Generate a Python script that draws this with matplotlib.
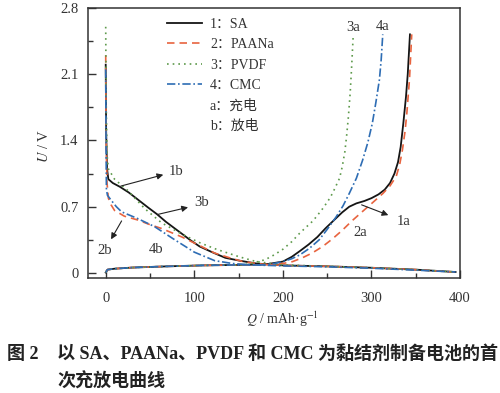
import matplotlib
matplotlib.use("Agg")
import matplotlib.pyplot as plt
from matplotlib.lines import Line2D
from matplotlib.ticker import MultipleLocator

plt.rcParams["font.family"] = ["Liberation Serif", "Noto Sans CJK SC"]
plt.rcParams["mathtext.fontset"] = "stix"

# ---- data (Q in mAh/g, U in V) ----
series_names = ["1：SA", "2：PAANa", "3：PVDF", "4：CMC"]

# discharge curves (b)
sa_dis_q = [0, 0.5, 1.5, 3, 8, 16, 26, 37, 48, 58, 68, 78, 88, 95, 106, 120, 135, 151, 170, 200, 250, 300, 350, 395]
sa_dis_u = [2.2, 1.5, 1.1, 0.99, 0.95, 0.91, 0.85, 0.77, 0.69, 0.62, 0.54, 0.47, 0.40, 0.35, 0.28, 0.22, 0.16, 0.13, 0.10, 0.08, 0.07, 0.055, 0.035, 0.01]
paana_dis_q = [0, 0.5, 1.5, 3, 6, 10, 21, 36, 50, 63, 86, 108, 123, 140, 155, 175, 200, 250, 300, 350, 393]
paana_dis_u = [2.3, 1.4, 0.95, 0.79, 0.72, 0.66, 0.60, 0.56, 0.51, 0.47, 0.38, 0.28, 0.21, 0.16, 0.12, 0.095, 0.08, 0.07, 0.055, 0.035, 0.01]
pvdf_dis_q = [0, 0.5, 1.5, 3, 10, 25, 44, 63, 86, 106, 125, 151, 170, 200, 250, 300, 350, 395]
pvdf_dis_u = [2.6, 1.8, 1.25, 1.10, 0.99, 0.87, 0.68, 0.53, 0.41, 0.32, 0.25, 0.17, 0.12, 0.085, 0.07, 0.055, 0.035, 0.01]
cmc_dis_q = [0, 0.4, 0.8, 2, 6, 12, 18, 36, 55, 78, 100, 123, 143, 165, 200, 250, 300, 350, 395]
cmc_dis_u = [2.15, 1.3, 0.88, 0.82, 0.77, 0.70, 0.645, 0.575, 0.49, 0.35, 0.22, 0.13, 0.10, 0.085, 0.075, 0.065, 0.05, 0.03, 0.01]

# charge curves (a)
sa_chg_q = [0, 2, 10, 30, 70, 110, 150, 180, 200, 210, 219, 229, 239, 248, 258, 267, 275, 283, 292, 300,
            308, 315, 321, 326, 330, 333, 336, 339, 341, 343.5]
sa_chg_u = [0.005, 0.035, 0.045, 0.057, 0.07, 0.08, 0.085, 0.09, 0.12, 0.17, 0.23, 0.30, 0.38, 0.47, 0.56, 0.64, 0.70, 0.735, 0.76, 0.79,
            0.83, 0.88, 0.95, 1.05, 1.17, 1.33, 1.58, 1.86, 2.1, 2.52]
paana_chg_q = [0, 2, 10, 30, 70, 110, 150, 180, 200, 211, 222, 233, 245, 256, 267, 278, 290, 301, 313, 321,
               328, 332, 335, 338, 340, 343, 345.5]
paana_chg_u = [0.005, 0.035, 0.045, 0.057, 0.07, 0.08, 0.085, 0.085, 0.10, 0.12, 0.16, 0.21, 0.28, 0.36, 0.45, 0.55, 0.65, 0.74, 0.84, 0.92,
               1.02, 1.15, 1.30, 1.50, 1.69, 2.05, 2.52]
pvdf_chg_q = [0, 2, 10, 30, 70, 110, 150, 158, 165, 172, 180, 190, 200, 210, 219, 227, 234, 240, 245, 251,
              256, 260, 264, 267, 270, 272, 274, 276, 277.5, 279.5]
pvdf_chg_u = [0.005, 0.035, 0.045, 0.057, 0.07, 0.08, 0.085, 0.09, 0.10, 0.12, 0.14, 0.19, 0.25, 0.33, 0.42, 0.49, 0.55, 0.62, 0.68, 0.76,
              0.84, 0.92, 1.0, 1.12, 1.28, 1.45, 1.65, 1.9, 2.15, 2.52]
cmc_chg_q = [0, 2, 10, 30, 70, 110, 150, 180, 190, 200, 210, 219, 230, 241, 250, 260, 268, 275, 283, 290,
             296, 301, 305, 309, 311, 312.8]
cmc_chg_u = [0.005, 0.035, 0.045, 0.057, 0.07, 0.08, 0.085, 0.085, 0.10, 0.12, 0.15, 0.19, 0.26, 0.35, 0.46, 0.59, 0.71, 0.84, 1.0, 1.19,
             1.38, 1.58, 1.8, 2.04, 2.25, 2.52]

discharge = [(sa_dis_q, sa_dis_u), (paana_dis_q, paana_dis_u), (pvdf_dis_q, pvdf_dis_u), (cmc_dis_q, cmc_dis_u)]
charge = [(sa_chg_q, sa_chg_u), (paana_chg_q, paana_chg_u), (pvdf_chg_q, pvdf_chg_u), (cmc_chg_q, cmc_chg_u)]

colors = ["#151515", "#e8643f", "#5e9a4c", "#2e6db4"]
styles = ["-", (0, (4.5, 3)), (0, (1, 2.4)), (0, (5, 1.6, 1, 1.6))]
widths = [1.3, 1.2, 1.2, 1.2]

fig = plt.figure(figsize=(5.0, 3.93), dpi=100)
ax = fig.add_axes([0.176, 0.2934, 0.744, 0.6866])

handles = []
for i in range(4):
    for q, u in (discharge[i], charge[i]):
        line, = ax.plot(q, u, color=colors[i], ls=styles[i], lw=widths[i])
    handles.append(line)

ax.set_xlim(-20, 400)
ax.set_ylim(-0.05, 2.8)
ax.set_xticks([0, 100, 200, 300, 400])
ax.set_yticks([0, 0.7, 1.4, 2.1, 2.8])
ax.set_yticklabels(["0", "0.7", "1.4", "2.1", "2.8"])
ax.xaxis.set_minor_locator(MultipleLocator(50))
ax.yaxis.set_minor_locator(MultipleLocator(0.35))
ax.tick_params(which="both", direction="in", width=1.0, color="#333333", labelsize=10.5, labelcolor="#333333")
ax.tick_params(which="major", length=6)
ax.tick_params(which="minor", length=3.5)
ax.tick_params(axis="x", pad=10)
ax.tick_params(axis="y", pad=7)
for s in ax.spines.values():
    s.set_linewidth(1.1)
    s.set_color("#333333")

# legend
blank = Line2D([], [], color="none")
leg = ax.legend(handles + [blank, blank], series_names + ["a：充电", "b：放电"],
                loc="upper left", bbox_to_anchor=(0.212, 0.962), frameon=False,
                fontsize=10, handlelength=2.5, handletextpad=0.6, labelspacing=0.52,
                borderpad=0, borderaxespad=0)
for t in leg.get_texts():
    t.set_color("#333333")

# annotations
arrow = dict(arrowstyle="-|>", color="#222222", lw=0.8, mutation_scale=9)
ax.annotate("", xy=(68, 1.045), xytext=(14, 0.91), arrowprops=arrow)
ax.annotate("", xy=(96, 0.70), xytext=(55, 0.61), arrowprops=arrow)
ax.annotate("", xy=(4.5, 0.33), xytext=(19.5, 0.575), arrowprops=arrow)
ax.annotate("", xy=(322, 0.60), xytext=(286, 0.73), arrowprops=arrow)
labels = [("1b", 80, 1.07), ("3b", 108, 0.74), ("2b", -1, 0.24), ("4b", 57, 0.25),
          ("1a", 336, 0.54), ("2a", 287, 0.43), ("3a", 279, 2.59), ("4a", 312.6, 2.6)]
for txt, x, y in labels:
    ax.text(x, y, txt, fontsize=10.5, color="#333333", ha="center", va="center")

fig.text(0.088, 0.63, "$U$ / V", rotation=90, fontsize=10.5, color="#333333", ha="center", va="center")
fig.text(0.564, 0.188, "$Q$ / mAh·g$^{-1}$", fontsize=10, color="#333333", ha="center", va="center")

# caption
cap_font = ["Liberation Serif", "Noto Sans CJK SC"]
fig.text(0.014, 0.099, "图 2", fontsize=13, fontweight="bold", family=cap_font, color="#222222", va="center")
fig.text(0.114, 0.099, "以 SA、PAANa、PVDF 和 CMC 为黏结剂制备电池的首", fontsize=13,
         fontweight="bold", family=cap_font, color="#222222", va="center")
fig.text(0.114, 0.029, "次充放电曲线", fontsize=13, fontweight="bold", family=cap_font,
         color="#222222", va="center")

fig.savefig("out.png", dpi=100)
